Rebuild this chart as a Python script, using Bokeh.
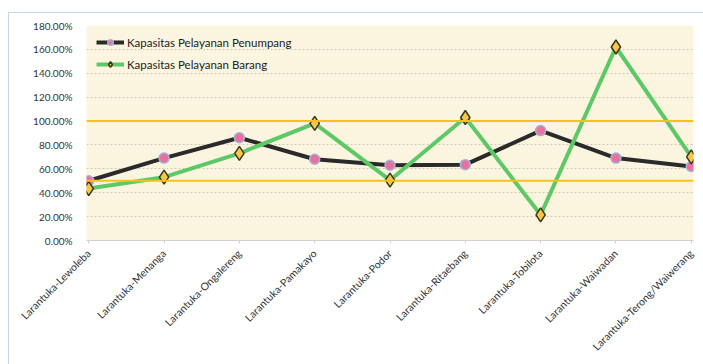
from bokeh.plotting import figure
from bokeh.models import Range1d, FixedTicker, NumeralTickFormatter, Legend, LegendItem, Span, InlineStyleSheet
from bokeh.embed import file_html
from bokeh.resources import INLINE
import math

routes = ["Larantuka-Lewoleba", "Larantuka-Menanga", "Larantuka-Ongalereng", "Larantuka-Pamakayo",
          "Larantuka-Podor", "Larantuka-Ritaebang", "Larantuka-Tobilota", "Larantuka-Waiwadan",
          "Larantuka-Terong/Waiwerang"]
penumpang = [50, 69, 86, 68, 63, 63.5, 92, 69, 62]
barang = [43.5, 53, 73, 98, 50.5, 103, 21.5, 162, 70]
ref_lines = [50, 100]
y_ticks = [0, 20, 40, 60, 80, 100, 120, 140, 160, 180]

xs = list(range(len(routes)))

p = figure(width=703, height=364, output_backend="svg", toolbar_location=None,
           x_range=Range1d(-0.03, len(routes) - 1 + 0.03), y_range=Range1d(0, 180),
           min_border_left=86, min_border_right=10, min_border_top=25, min_border_bottom=124)
p.background_fill_color = "#fbf5df"
p.border_fill_color = "white"
p.outline_line_color = None

p.xaxis.ticker = FixedTicker(ticks=xs)
p.xaxis.major_label_overrides = {i: r for i, r in enumerate(routes)}
p.xaxis.major_label_orientation = math.pi / 4
p.xaxis.major_label_text_font = "Lato"
p.xaxis.major_label_text_font_size = "10.5px"
p.xaxis.major_label_text_color = "#333333"
p.xaxis.major_label_standoff = 8
p.xaxis.axis_line_color = "#d0d0d0"
p.xaxis.major_tick_line_color = "#d0d0d0"
p.xaxis.major_tick_in = 0
p.xaxis.major_tick_out = 3
p.xaxis.minor_tick_line_color = None

p.yaxis.ticker = FixedTicker(ticks=y_ticks)
p.yaxis.formatter = NumeralTickFormatter(format="0.00%")
p.yaxis.major_label_overrides = {t: f"{t:.2f}%" for t in y_ticks}
p.yaxis.major_label_text_font = "Lato"
p.yaxis.major_label_text_font_size = "10px"
p.yaxis.major_label_text_color = "#333333"
p.yaxis.axis_line_color = None
p.yaxis.major_tick_line_color = None
p.yaxis.minor_tick_line_color = None
p.yaxis.major_label_standoff = 8

p.xgrid.grid_line_color = None
p.ygrid.grid_line_color = "#cfcabb"
p.ygrid.grid_line_dash = "2 2"
p.ygrid.grid_line_width = 1

for v in ref_lines:
    p.add_layout(Span(location=v, dimension="width", line_color="#f5c21b", line_width=2))

l1 = p.line(xs, penumpang, line_color="#2a2a2a", line_width=4)
m1 = p.scatter(xs, penumpang, marker="circle", size=10, fill_color="#ec6f9c", line_color="#9fb3d6", line_width=1.5)
l2 = p.line(xs, barang, line_color="#5cc866", line_width=4)
m2 = p.scatter(xs, barang, marker="diamond", size=14, fill_color="#f6c744", line_color="#3a3420", line_width=1.5)

legend = Legend(items=[LegendItem(label="Kapasitas Pelayanan Penumpang", renderers=[l1, m1]),
                       LegendItem(label="Kapasitas Pelayanan Barang", renderers=[l2, m2])],
                location=(6, -5))
legend.background_fill_alpha = 0
legend.border_line_color = None
legend.label_text_font = "Lato"
legend.label_text_font_size = "11.5px"
legend.label_text_color = "#222222"
legend.glyph_width = 28
legend.glyph_height = 14
legend.label_height = 14
legend.spacing = 8
legend.label_standoff = 3
legend.padding = 4
p.add_layout(legend, "center")
p.legend.location = "top_left"

p.stylesheets = [InlineStyleSheet(css=(
    ":host { overflow: hidden; }"
    ":host::after { content: ''; position: absolute; left: 8px; top: 12px; right: -10px; bottom: -10px;"
    " border: 1.5px solid #c9d5dc; pointer-events: none; }"))]

open("out.html", "w").write(file_html(p, INLINE))
